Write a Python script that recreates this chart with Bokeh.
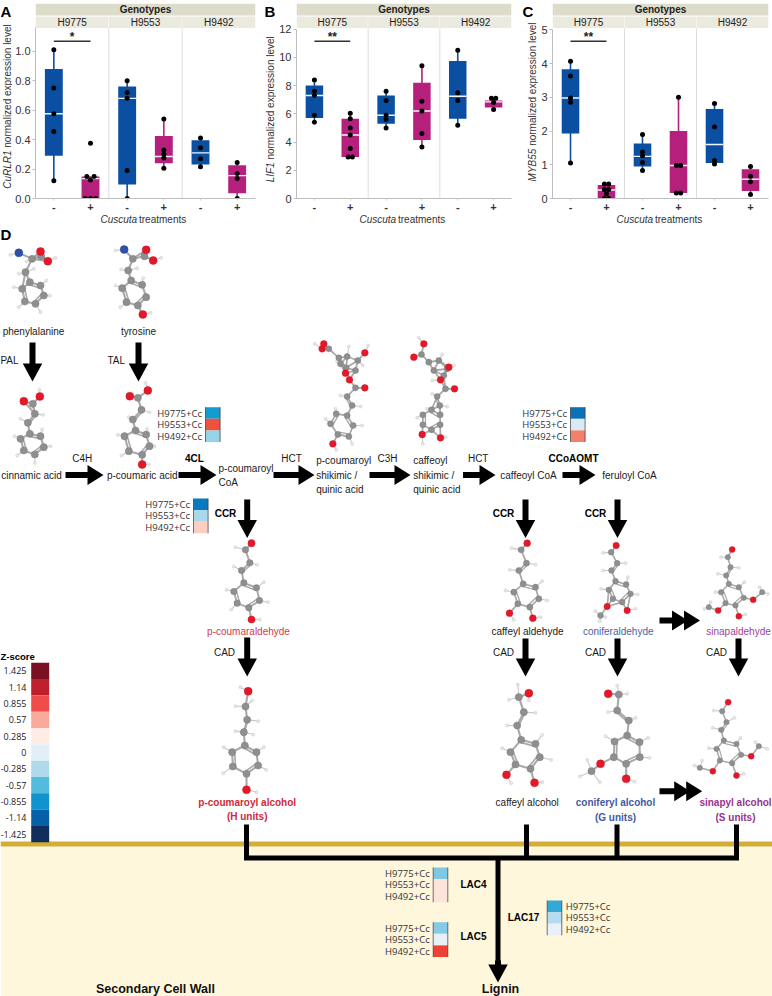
from bokeh.plotting import figure
from bokeh.layouts import column, row
from bokeh.models import Range1d, FixedTicker
from bokeh.core.properties import value
from bokeh.embed import file_html
from bokeh.resources import INLINE
from itertools import combinations
import math

genotypes = ["H9775", "H9553", "H9492"]
tick_signs = ["-", "+", "-", "+", "-", "+"]
BLUE, MAG = "#0b4fa3", "#b5207d"
SANS = "Liberation Sans"

# ---- panel data (one entry per box: H9775-,H9775+,H9553-,H9553+,H9492-,H9492+)
a_q1 = [.29, 0, .095, .24, .23, .035]
a_med = [.575, .135, .68, .285, .31, .155]
a_q3 = [.88, .15, .76, .425, .395, .225]
a_lo = [.12, 0, 0, .205, .215, 0]
a_hi = [1.01, .15, .80, .54, .41, .245]
a_pts = [[1.01, .75, .575, .455, .12], [.375, .15, .15, .125, 0, 0, 0], [.80, .72, .68, .19, 0],
         [.54, .33, .30, .275, .205], [.41, .345, .27, .215], [.245, .17, .135, 0]]
a_jit = [[0] * 5, [0, -.05, .05, 0, -.07, 0, .07], [0] * 5, [0] * 5, [0] * 4, [0] * 4]

b_q1 = [5.7, 2.95, 5.3, 4.15, 5.65, 6.45]
b_med = [7.3, 4.5, 5.9, 6.2, 7.25, 6.85]
b_q3 = [8.0, 5.65, 7.3, 8.2, 9.75, 6.95]
b_lo = [5.4, 2.95, 5.0, 3.65, 5.2, 6.3]
b_hi = [8.4, 6.05, 7.6, 9.4, 10.5, 7.1]
b_pts = [[8.4, 7.6, 7.3, 5.9, 5.4], [6.05, 5.65, 5.0, 4.5, 3.55, 2.95, 2.95], [7.6, 6.95, 5.9, 5.6, 5.0],
         [9.4, 6.9, 6.2, 4.6, 3.65], [10.5, 7.5, 6.95, 5.2], [7.1, 7.1, 6.8, 6.3]]
b_jit = [[0] * 5, [0, 0, 0, 0, 0, -.03, .03], [0] * 5, [0] * 5, [0] * 4, [-.03, .03, 0, 0]]

c_q1 = [1.93, 0, .95, .16, 1.05, .22]
c_med = [2.98, .25, 1.25, .98, 1.6, .57]
c_q3 = [3.83, .4, 1.63, 2.0, 2.65, .87]
c_lo = [1.05, 0, .83, .16, 1.02, .12]
c_hi = [4.07, .4, 1.9, 3.0, 2.82, .95]
c_pts = [[4.07, 3.63, 2.98, 2.85, 1.05], [.43, .43, .27, .27, .14, 0, 0], [1.9, 1.38, 1.27, 1.07, .83],
         [3.0, .98, .98, .16, .16], [2.82, 2.12, 1.13, 1.02], [.95, .66, .5, .12]]
c_jit = [[0] * 5, [-.03, .03, -.03, .03, 0, -.03, .03], [0] * 5, [0, -.03, .03, -.03, .03], [0] * 4, [0] * 4]

a_ticks = [0, .2, .4, .6, .8, 1.0]
b_ticks = [0, 2, 4, 6, 8, 10, 12]
c_ticks = [0, 1, 2, 3, 4, 5]


def blank(w, h, xr, yr):
    f = figure(width=w, height=h, output_backend="svg", toolbar_location=None, x_range=Range1d(*xr),
               y_range=Range1d(*yr), min_border=0, background_fill_color="white", border_fill_color="white",
               outline_line_color=None)
    f.axis.visible = False
    f.grid.visible = False
    return f


def panel(width, strip, left, right, ppu, ticks, fmt, hi_bound, q1, med, q3, lo, hi, pts, jit, gene, stars,
          letter, letter_x, title_x, junction, sig_y):
    """strip: width of the narrow title strip left of the plot; left: axis margin of the plot."""
    height = 213
    top, bottom = 3, 198
    plot_w = width - strip
    p = figure(width=plot_w, height=height, output_backend="svg", toolbar_location=None,
               x_range=Range1d(0, 3), y_range=Range1d(0, (bottom - top) / ppu),
               min_border_left=left, min_border_right=right, min_border_top=top, min_border_bottom=height - bottom,
               background_fill_color="white", border_fill_color="white", outline_line_color=None)
    p.grid.visible = False
    p.extra_y_ranges = {"px": Range1d(bottom, top)}

    ax = p.yaxis[0]
    ax.ticker = FixedTicker(ticks=ticks)
    ax.bounds = (0, hi_bound)
    ax.major_label_overrides = {t: fmt % t for t in ticks}
    ax.major_label_text_font = SANS
    ax.major_label_text_font_size = "11px"
    ax.major_label_text_color = "#333333"
    ax.axis_line_color = "#bdbdbd"
    ax.major_tick_line_color = "#bdbdbd"
    ax.major_tick_in = 0
    ax.major_tick_out = 3
    ax.minor_tick_line_color = None
    ax.major_label_standoff = 2

    xa = p.xaxis[0]
    tpos = [.25, .75, 1.25, 1.75, 2.25, 2.75]
    xa.ticker = FixedTicker(ticks=tpos)
    xa.major_label_overrides = {t: s for t, s in zip(tpos, tick_signs)}
    xa.major_label_text_font = SANS
    xa.major_label_text_font_size = "11px"
    xa.major_label_text_font_style = "bold"
    xa.major_label_text_color = "#333333"
    xa.axis_line_color = "#bdbdbd"
    xa.major_tick_line_color = "#d0d0d0"
    xa.major_tick_in = 0
    xa.major_tick_out = 2
    xa.minor_tick_line_color = None
    xa.major_label_standoff = 2

    # facet header strips
    p.quad(left=[0], right=[3], top=[3], bottom=[15], y_range_name="px", fill_color="#dddccb", line_color=None)
    p.quad(left=[0, 1, 2], right=[.995, 1.995, 3], top=[16] * 3, bottom=[27.5] * 3, y_range_name="px",
           fill_color="#ebeade", line_color=None)
    p.segment(x0=[1, 2], x1=[1, 2], y0=[28, 28], y1=[198, 198], y_range_name="px", line_color="#dcdcdc", line_width=1)
    p.text(x=[1.5], y=[9], text=["Genotypes"], y_range_name="px", text_font=value(SANS), text_font_size="10px",
           text_font_style="bold", text_align="center", text_baseline="middle", text_color="#222222")
    p.text(x=[.5, 1.5, 2.5], y=[21.8] * 3, text=genotypes, y_range_name="px", text_font=value(SANS),
           text_font_size="10px", text_align="center", text_baseline="middle", text_color="#222222")

    cols = [BLUE, MAG] * 3
    hw = .122
    p.segment(x0=tpos, x1=tpos, y0=lo, y1=hi, line_color=cols, line_width=1.6)
    p.quad(left=[t - hw for t in tpos], right=[t + hw for t in tpos], bottom=q1, top=q3, fill_color=cols, line_color=None)
    p.segment(x0=[t - hw for t in tpos], x1=[t + hw for t in tpos], y0=med, y1=med, line_color="#f2f6fa", line_width=1.4)
    xs, ys = [], []
    for t, vals, js in zip(tpos, pts, jit):
        for v, j in zip(vals, js):
            xs.append(t + j)
            ys.append(v)
    p.scatter(xs, ys, size=5, fill_color="black", line_color=None)

    # significance bracket
    p.segment(x0=[.25], x1=[.75], y0=[sig_y], y1=[sig_y], y_range_name="px", line_color="#333333", line_width=1.6)
    p.text(x=[.5], y=[sig_y - 4], text=[stars], y_range_name="px", text_font=value(SANS), text_font_size="12px",
           text_font_style="bold", text_align="center", text_baseline="middle", text_color="#222222")

    # narrow left strip: panel letter and y title (italic gene + regular remainder)
    ls = blank(strip, height, (0, strip), (height, 0))
    ls.text(x=[letter_x], y=[8.5], text=[letter], text_font=value(SANS), text_font_size="15px", text_font_style="bold",
            text_align="left", text_baseline="middle", text_color="black")
    ls.text(x=[title_x], y=[junction + 1.5], text=[gene], angle=math.pi / 2, text_font=value(SANS), text_font_size="10px",
            text_font_style="italic", text_align="right", text_baseline="middle", text_color="#333333")
    ls.text(x=[title_x], y=[junction - 1.5], text=["normalized expression level"], angle=math.pi / 2, text_font=value(SANS),
            text_font_size="10px", text_align="left", text_baseline="middle", text_color="#333333")

    # bottom strip: x title
    bs = blank(width, 12, (0, width), (12, 0))
    sx = strip + left + 65
    bs.text(x=[sx], y=[5.5], text=["Cuscuta"], text_font=value(SANS), text_font_size="10px", text_font_style="italic",
            text_align="left", text_baseline="middle", text_color="#333333")
    bs.text(x=[sx + 38.5], y=[5.5], text=["treatments"], text_font=value(SANS), text_font_size="10px",
            text_align="left", text_baseline="middle", text_color="#333333")
    return column(row(ls, p, spacing=0), bs, spacing=0)


pa = panel(257, 12, 23, 2, 147.3, a_ticks, "%.1f", 1.16, a_q1, a_med, a_q3, a_lo, a_hi, a_pts, a_jit, "CuRLR1", "*",
           "A", 0, 6.7, 159, 40.7)
pb = panel(257, 19, 18, 3, 14.11, b_ticks, "%d", 12, b_q1, b_med, b_q3, b_lo, b_hi, b_pts, b_jit, "LIF1", "**",
           "B", 7, 13, 172, 40.7)
pc = panel(258, 24, 13, 4, 33.73, c_ticks, "%d", 5, c_q1, c_med, c_q3, c_lo, c_hi, c_pts, c_jit, "MYB55", "**",
           "C", 8, 18, 157, 40.7)

# ---- pathway panel, drawn on page coordinates
d = blank(772, 771, (0, 772), (996, 225))

d.quad(left=[0], right=[772], top=[846], bottom=[996], fill_color="#fef7dc", line_color=None)
d.quad(left=[0], right=[772], top=[841], bottom=[846], fill_color="#d3ad36", line_color=None)

def txt(items, size="10px", color="#1a1a1a", style="normal", align="center", font=SANS):
    d.text(x=[i[0] for i in items], y=[i[1] for i in items], text=[i[2] for i in items], text_font=value(font),
           text_font_size=size, text_color=color, text_font_style=style, text_align=align, text_baseline="middle")

# Z-score scale
z_labels = ["1.425", "1.14", "0.855", "0.57", "0.285", "0", "-0.285", "-0.57", "-0.855", "-1.14", "-1.425"]
z_colors = ["#7a1022", "#c01f2e", "#ef4d4a", "#f9aa9c", "#fdebe4", "#e3eff7", "#afdaeb", "#53bbdd", "#0f93cc", "#0460a9", "#122e5c"]
zh = (841.7 - 662.3) / 11
for i, (zl, zc) in enumerate(zip(z_labels, z_colors)):
    d.quad(left=[30.7], right=[48.7], top=[662.3 + i * zh], bottom=[662.3 + (i + 1) * zh], fill_color=zc, line_color=None)
    txt([(26, 662.3 + (i + .5) * zh, zl)], size="9px", align="right", font="Open Sans")
txt([(0, 656, "Z-score")], size="9.5px", style="bold", align="left", color="black")

# brackets
d.segment(x0=[246, 526, 616.5, 736, 243.5, 497.5], x1=[246, 526, 616.5, 736, 738.5, 497.5],
          y0=[824, 824, 824, 824, 857.5, 857], y1=[857, 857, 857, 857, 857.5, 970],
          line_color="black", line_width=5)

def arrow(x0, y0, x1, y1, w=6.0, hw=19.5, hl=18.0):
    L = math.hypot(x1 - x0, y1 - y0)
    ux, uy = (x1 - x0) / L, (y1 - y0) / L
    nx, ny = -uy, ux
    bx, by = x1 - ux * hl, y1 - uy * hl
    xs = [x0 + nx * w / 2, bx + nx * w / 2, bx + nx * hw / 2, x1, bx - nx * hw / 2, bx - nx * w / 2, x0 - nx * w / 2]
    ys = [y0 + ny * w / 2, by + ny * w / 2, by + ny * hw / 2, y1, by - ny * hw / 2, by - ny * w / 2, y0 - ny * w / 2]
    d.patch(xs, ys, fill_color="black", line_color=None)

for a in [(32, 342, 32, 381), (138, 342, 138, 381), (246.7, 499, 246.7, 537.5), (525, 499, 525, 537.5),
          (617, 499, 617, 537.5), (246.7, 637, 246.7, 676), (525, 638, 525, 676), (617, 638, 617, 676),
          (738, 638, 738, 676), (497.5, 960, 497.5, 982)]:
    arrow(*a)
for a in [(65, 474.5, 103, 474.5), (178, 474.5, 216, 474.5), (273, 474.5, 314, 474.5), (369, 474.5, 410, 474.5),
          (462.5, 474.5, 495, 474.5), (562, 474.5, 595, 474.5)]:
    arrow(*a, hw=20, hl=16)
for y, tip in [(620, 699.5), (790.7, 701.7)]:
    arrow(659, y, tip - 12, y, hw=20, hl=16)
    arrow(tip - 17, y, tip, y, w=0.1, hw=20, hl=16)

# heat strips
strips = [
    (205, 406.7, ["#119dcf", "#f0503f", "#94d3e8"], "left"),
    (193, 498, ["#0a79bd", "#a8d8ea", "#fbcfc0"], "left"),
    (570, 406.7, ["#0a72b8", "#d8eaf4", "#f47f6b"], "left"),
    (432.7, 867, ["#7ec8e3", "#fde3dc", "#fde3dc"], "left"),
    (432.7, 921.7, ["#85cbe6", "#e6f0f8", "#ef4136"], "left"),
    (546.7, 900, ["#35a9d6", "#b4dcf0", "#e8f1f8"], "right"),
]
strip_rows = ["H9775+Cc", "H9553+Cc", "H9492+Cc"]
for sx, sy, cols, side in strips:
    h = 11.6
    for i, c in enumerate(cols):
        d.quad(left=[sx], right=[sx + 14.6], top=[sy + i * h], bottom=[sy + (i + 1) * h], fill_color=c, line_color=None)
    d.segment(x0=[sx, sx + 14.6], x1=[sx, sx + 14.6], y0=[sy, sy], y1=[sy + 3 * h] * 2, line_color="#33373d", line_width=.7)
    for i, s in enumerate(strip_rows):
        if side == "left":
            txt([(sx - 3.5, sy + (i + .5) * h, s)], size="9.5px", align="right", font="Open Sans", color="#333333")
        else:
            txt([(sx + 18.5, sy + (i + .5) * h, s)], size="9.5px", align="left", font="Open Sans", color="#333333")

# molecules: atom coordinates as read at 3x from an origin on the page
def mol(ox, oy, C, O=(), N=(), H=(), dbl=(), thr=52, big=1.0):
    P = lambda q: (ox + q[0] / 3, oy + q[1] / 3)
    C_, O_, N_, H_ = [P(q) for q in C], [P(q) for q in O], [P(q) for q in N], [P(q) for q in H]
    heavy = C_ + O_ + N_
    nC = len(C_)
    t = thr / 3
    bx0, by0, bx1, by1 = [], [], [], []
    for h in H_:
        n = min(heavy, key=lambda a: math.hypot(a[0] - h[0], a[1] - h[1]))
        bx0.append(h[0]); by0.append(h[1]); bx1.append(n[0]); by1.append(n[1])
    d.segment(bx0, by0, bx1, by1, line_color="#c9c9c9", line_width=1.1)
    sx0, sy0, sx1, sy1 = [], [], [], []
    for i, j in combinations(range(len(heavy)), 2):
        if i >= nC and j >= nC:
            continue
        if math.hypot(heavy[i][0] - heavy[j][0], heavy[i][1] - heavy[j][1]) < t:
            sx0.append(heavy[i][0]); sy0.append(heavy[i][1]); sx1.append(heavy[j][0]); sy1.append(heavy[j][1])
    d.segment(sx0, sy0, sx1, sy1, line_color="#a9a9a9", line_width=2.1 * big)
    rx = sum(q[0] for q in C_[:6]) / 6
    ry = sum(q[1] for q in C_[:6]) / 6
    px0, py0, px1, py1 = [], [], [], []
    for i, j in [(0, 1), (2, 3), (4, 5)] + list(dbl):
        a, b = C_[i], C_[j]
        mx, my = (a[0] + b[0]) / 2, (a[1] + b[1]) / 2
        L = math.hypot(mx - rx, my - ry) or 1
        off = 2.6
        ax_, ay_ = (mx - rx) / L * off, (my - ry) / L * off
        px0.append(a[0] - ax_); py0.append(a[1] - ay_); px1.append(b[0] - ax_); py1.append(b[1] - ay_)
    d.segment(px0, py0, px1, py1, line_color="#a9a9a9", line_width=1.6 * big)
    d.scatter([q[0] for q in H_], [q[1] for q in H_], size=3.2, fill_color="#e6e6e6", line_color="#c4c4c4", line_width=.4)
    d.scatter([q[0] for q in C_], [q[1] for q in C_], size=7.2 * big, fill_color="#8f8f8f", line_color="#7a7a7a", line_width=.4)
    if O_:
        d.scatter([q[0] for q in O_], [q[1] for q in O_], size=8 * big, fill_color="#e5182a", line_color="#c5141f", line_width=.4)
    if N_:
        d.scatter([q[0] for q in N_], [q[1] for q in N_], size=8 * big, fill_color="#2f4fa8", line_color="#24408f", line_width=.4)

Z4 = (0, 225)
mol(*Z4, C=[(88,170),(120,180),(130,210),(105,235),(73,228),(65,190),(75,140),(95,100),(122,92)],
    O=[(120,78),(142,107)], N=[(55,82)],
    H=[(30,88),(165,97),(55,145),(100,130),(78,108),(40,185),(148,210),(120,260),(55,245),(138,165)])
mol(*Z4, C=[(392,165),(425,178),(437,215),(412,240),(378,230),(365,188),(383,135),(397,100),(432,92)],
    O=[(437,73),(458,105),(427,267)], N=[(371,72)],
    H=[(345,75),(482,97),(362,132),(410,128),(345,180),(360,245),(428,158),(450,262)])
mol(*Z4, C=[(88,625),(120,632),(130,665),(103,687),(70,675),(60,640),(82,592),(103,565),(97,535)],
    O=[(70,527),(118,513)], H=[(117,493),(128,568),(60,580),(125,612),(150,662),(103,712),(50,690),(42,632)], dbl=[(6,7)])
mol(*Z4, C=[(405,615),(437,627),(447,662),(425,688),(385,677),(372,632),(397,582),(423,553),(412,517)],
    O=[(388,512),(442,495),(425,717)], H=[(435,472),(447,560),(385,575),(445,717),(352,628),(363,690),(462,662),(440,610)], dbl=[(6,7)])

Z9 = (305, 330)
mol(*Z9, C=[(125,255),(143,285),(130,318),(97,312),(75,280),(92,250),(140,225),(125,198),(150,172),
            (150,120),(157,90),(125,78),(100,82),(105,100),(122,112),(70,55)],
    O=[(178,172),(132,148),(120,128),(178,67),(55,40),(50,55),(82,340)],
    H=[(165,228),(105,195),(90,235),(170,285),(140,340),(92,358),(60,265),(28,40),(188,45),(130,48),(95,92),(172,105)], dbl=[(6,7)], thr=46, big=.85)
mol(*Z9, C=[(378,238),(404,253),(404,283),(378,298),(352,283),(352,253),(403,225),(395,198),(420,175),
            (385,120),(370,95),(400,90),(425,115),(415,135),(348,72)],
    O=[(447,175),(405,148),(430,110),(355,40),(325,80),(350,312),(405,322)],
    H=[(340,22),(410,72),(380,150),(380,190),(425,228),(335,262),(420,320),(352,340),(445,105),(365,235)], dbl=[(6,7)], thr=46, big=.85)

Z10 = (190, 530)
mol(*Z10, C=[(160,157),(198,172),(207,210),(175,232),(140,218),(130,183),(153,120),(178,97),(165,58)],
    O=[(183,38),(183,267)], H=[(135,50),(200,103),(130,108),(220,155),(232,215),(122,237),(108,178),(208,267)], dbl=[(6,7)], big=.9)
mol(*Z10, C=[(163,645),(198,665),(203,705),(168,730),(127,708),(125,665),(160,605),(170,568),(165,528)],
    O=[(173,482),(168,778)],
    H=[(150,470),(135,527),(185,510),(203,572),(135,602),(188,612),(220,650),(227,718),(98,728),(100,650),(198,785)], dbl=[(6,7)])

Z8 = (480, 390)
mol(*Z8, C=[(128,580),(165,590),(175,625),(148,650),(112,640),(100,605),(115,540),(138,518),(122,478)],
    O=[(140,458),(87,668),(157,683)], H=[(93,473),(165,522),(88,538),(185,572),(200,630),(75,600),(100,688),(180,680)], dbl=[(6,7)], big=.85)
mol(*Z8, C=[(405,572),(437,582),(450,610),(425,635),(397,625),(385,598),(393,540),(410,518),(392,485),(360,675)],
    O=[(407,465),(380,648),(440,660)], H=[(368,487),(435,518),(368,540),(442,560),(472,612),(362,595),(465,655),(345,662),(358,692),(375,680)], dbl=[(6,7)], big=.8)
mol(*Z8, C=[(745,580),(775,590),(790,622),(765,645),(735,638),(722,605),(737,555),(750,530),(742,500),(845,605),(685,650)],
    O=[(755,477),(818,628),(713,660),(775,677)],
    H=[(722,500),(775,532),(712,550),(792,575),(705,605),(862,610),(838,590),(672,655),(690,635),(795,672)], dbl=[(6,7)], thr=46, big=.75)

Z11 = (480, 640)
mol(*Z11, C=[(122,298),(165,310),(178,350),(150,385),(105,372),(90,335),(110,255),(130,215),(115,170)],
    O=[(145,158),(78,403),(162,427)],
    H=[(112,132),(85,178),(145,180),(165,217),(80,255),(185,283),(212,358),(65,323),(92,428),(185,425)], dbl=[(6,7)], thr=52)
mol(*Z11, C=[(440,285),(477,305),(478,350),(437,370),(400,350),(402,303),(445,240),(410,210),(415,162),(333,392)],
    O=[(383,160),(437,415),(360,370)],
    H=[(410,135),(440,160),(383,215),(465,232),(375,287),(503,292),(507,352),(462,423),(298,408),(320,358),(358,425)], dbl=[(6,7)], thr=52)
mol(*Z11, C=[(730,300),(768,310),(782,343),(755,368),(718,360),(708,325),(722,268),(738,245),(725,212),(835,317),(658,382)],
    O=[(743,185),(812,347),(697,392),(768,405)],
    H=[(697,262),(762,232),(700,210),(780,292),(685,323),(860,325),(825,305),(642,375),(665,360),(790,400)], dbl=[(6,7)], thr=46, big=.75)

# texts
txt([(33, 331, "phenylalanine"), (138, 331, "tyrosine"), (9, 360, "PAL"), (115.7, 360, "TAL"),
     (31, 475, "cinnamic acid"), (141.7, 475, "p-coumaric acid"), (81.7, 458, "C4H"), (291, 458, "HCT"),
     (387, 458, "C3H"), (477.7, 458, "HCT"), (528, 475, "caffeoyl CoA"), (629, 475, "feruloyl CoA"),
     (224, 651.7, "CAD"), (503, 651.7, "CAD"), (595, 651.7, "CAD"), (716, 651.7, "CAD"),
     (527, 630.7, "caffeyl aldehyde"), (526.7, 801.7, "caffeyl alcohol")])
txt([(218, 468, "p-coumaroyl"), (218, 482, "CoA"), (315.7, 460, "p-coumaroyl"), (315.7, 474.5, "shikimic /"),
     (315.7, 489, "quinic acid"), (412.7, 459.5, "caffeoyl"), (412.7, 474.5, "shikimic /"), (412.7, 489, "quinic acid")],
    align="left")
txt([(194, 458, "4CL"), (573, 458, "CCoAOMT"), (225, 513, "CCR"), (503, 513, "CCR"), (595, 513, "CCR"),
     (473, 884, "LAC4"), (473, 935.7, "LAC5"), (523, 917, "LAC17")], style="bold", color="black")
txt([(248, 631, "p-coumaraldehyde")], color="#cf3a49")
txt([(617.7, 630.7, "coniferaldehyde")], color="#4a62a8")
txt([(738, 630.7, "sinapaldehyde")], color="#9c3f97")
txt([(246.7, 802, "p-coumaroyl alcohol"), (246.7, 816, "(H units)")], color="#cf2a3c", style="bold")
txt([(615, 802, "coniferyl alcohol"), (615, 816.7, "(G units)")], color="#3f5aa6", style="bold")
txt([(735, 802, "sinapyl alcohol"), (735, 816.7, "(S units)")], color="#96338f", style="bold")
txt([(500, 988, "Lignin"), (155, 988, "Secondary Cell Wall")], size="12.5px", style="bold", color="#111111")
txt([(0, 233.5, "D")], size="15px", style="bold", align="left", color="black")

page = column(row(pa, pb, pc, spacing=0), d, spacing=0)
open("out.html", "w").write(file_html(page, INLINE))
